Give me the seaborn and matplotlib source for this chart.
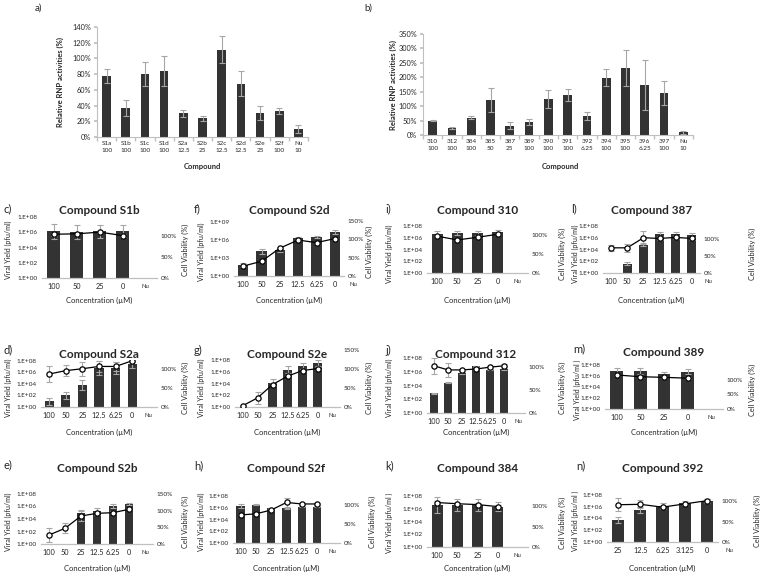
import numpy as np
import matplotlib
matplotlib.use("Agg")
import matplotlib.pyplot as plt
import seaborn as sns
from matplotlib.ticker import FixedLocator, FuncFormatter, NullLocator

sns.set_theme(style="white")
plt.rcParams['font.family'] = ['Lato', 'DejaVu Sans']

# ---- RNP activity screens (panels a, b) ----
a_compounds = ["S1a", "S1b", "S1c", "S1d", "S2a", "S2b", "S2c", "S2d", "S2e", "S2f", "Nu"]
a_doses = ["100", "100", "100", "100", "12.5", "25", "12.5", "12.5", "25", "100", "10"]
a_activity = [78, 37, 80, 84, 30, 24, 111, 68, 31, 33, 10]
a_err = [9, 10, 15, 19, 5, 3, 17, 16, 9, 4, 5]

b_compounds = ["310", "312", "384", "385", "387", "389", "390", "391", "392", "394", "395", "396", "397", "Nu"]
b_doses = ["100", "100", "100", "50", "25", "100", "100", "100", "6.25", "100", "100", "6.25", "100", "10"]
b_activity = [50, 25, 60, 122, 32, 45, 125, 138, 65, 198, 232, 173, 145, 10]
b_err = [3, 3, 5, 42, 12, 12, 30, 20, 14, 29, 62, 87, 41, 5]

# ---- dose response panels: viral yield (log10 pfu/ml) and cell viability (%) ----
nan = np.nan
c_conc = ["100", "50", "25", "0"]
c_yield = [6.1, 6.05, 6.1, 6.15]
c_yield_err = [1.0, 0.95, 0.9, 0.8]
c_viab = [104, 105, 109, 101]
c_viab_err = [3, 3, 3, 3]

f_conc = ["100", "50", "25", "12.5", "6.25", "0"]
f_yield = [1.85, 4.1, 4.3, 6.3, 6.5, 7.4]
f_yield_err = [0.35, 0.4, 0.3, 0.2, 0.2, 0.3]
f_viab = [27, 40, 76, 98, 91, 102]
f_viab_err = [2, 2, 3, 3, 3, 3]

i_conc = ["100", "50", "25", "0"]
i_yield = [6.7, 6.8, 6.8, 7.0]
i_yield_err = [0.4, 0.4, 0.4, 0.4]
i_viab = [98, 88, 95, 103]
i_viab_err = [3, 3, 3, 3]

l_conc = ["100", "50", "25", "12.5", "6.25", "0"]
l_yield = [nan, 1.6, 4.85, 6.6, 6.7, 6.45]
l_yield_err = [0, 0.25, 0.3, 0.3, 0.3, 0.3]
l_viab = [75, 75, 105, 103, 106, 103]
l_viab_err = [8, 12, 20, 4, 4, 4]

d_conc = ["100", "50", "25", "12.5", "6.25", "0"]
d_yield = [1.0, 2.0, 3.8, 6.7, 6.7, 7.4]
d_yield_err = [0.6, 0.6, 0.8, 1.2, 1.0, 0.6]
d_viab = [87, 96, 101, 107, 107, 122]
d_viab_err = [22, 14, 19, 14, 12, 3]

g_conc = ["100", "50", "25", "12.5", "6.25", "0"]
g_yield = [nan, nan, 4.2, 6.4, 7.1, 7.55]
g_yield_err = [0, 0, 0.6, 0.6, 0.5, 0.45]
g_viab = [3, 24, 59, 81, 96, 101]
g_viab_err = [1, 16, 4, 3, 3, 3]

j_conc = ["100", "50", "25", "12.5", "6.25", "0"]
j_yield = [2.85, 4.4, 5.8, 6.8, 6.3, 6.4]
j_yield_err = [0.1, 0.1, 0.1, 0.1, 0.1, 0.1]
j_viab = [103, 94, 94, 96, 100, 103]
j_viab_err = [18, 16, 3, 3, 3, 3]

m_conc = ["100", "50", "25", "0"]
m_yield = [6.9, 6.9, 6.4, 6.8]
m_yield_err = [0.5, 0.5, 0.4, 0.4]
m_viab = [116, 110, 108, 105]
m_viab_err = [4, 3, 3, 3]

e_conc = ["100", "50", "25", "12.5", "6.25", "0"]
e_yield = [nan, nan, 4.9, 5.3, 6.1, 6.4]
e_yield_err = [0, 0, 0.5, 0.4, 0.3, 0.2]
e_viab = [27, 47, 84, 92, 94, 104]
e_viab_err = [20, 15, 15, 5, 4, 3]

h_conc = ["100", "50", "25", "12.5", "6.25", "0"]
h_yield = [6.3, 6.5, 5.9, 5.9, 6.2, 6.2]
h_yield_err = [0.3, 0.1, 0.1, 0.1, 0.1, 0.1]
h_viab = [74, 77, 87, 107, 103, 103]
h_viab_err = [3, 3, 3, 12, 3, 3]

k_conc = ["100", "50", "25", "0"]
k_yield = [6.6, 6.6, 6.6, 6.3]
k_yield_err = [1.2, 1.0, 0.9, 0.7]
k_viab = [109, 106, 104, 99]
k_viab_err = [3, 3, 3, 3]

n_conc = ["25", "12.5", "6.25", "3.125", "0"]
n_yield = [3.8, 5.5, 6.2, 6.6, 7.0]
n_yield_err = [0.5, 0.5, 0.4, 0.3, 0.3]
n_viab = [92, 93, 86, 94, 102]
n_viab_err = [16, 10, 4, 3, 3]

W, H = 760, 574
BAR = '#333333'
ERR = '#a6a6a6'
AXIS = '#bfbfbf'

fig = plt.figure(figsize=(W / 100, H / 100), dpi=100)


def px_axes(x0, x1, y0, y1):
    return fig.add_axes([x0 / W, 1 - y1 / H, (x1 - x0) / W, (y1 - y0) / H])


def ftext(x, y, s, **kw):
    fig.text(x / W, 1 - y / H, s, **kw)


def rnp_panel(box, names, doses, vals, errs, ymax, ystep, ylab_x, xlab_xy, letter, letter_xy):
    ax = px_axes(*box)
    labels = [f"{nm}\n{d}" for nm, d in zip(names, doses)]
    sns.barplot(x=labels, y=vals, order=labels, color=BAR, saturation=1, width=0.45,
                errorbar=None, linewidth=0, ax=ax)
    ax.errorbar(range(len(vals)), vals, yerr=errs, fmt='none', ecolor=ERR,
                elinewidth=0.8, capsize=2, capthick=0.8)
    ax.set_ylim(0, ymax)
    ax.set_xlim(-0.5, len(vals) - 0.5)
    ax.yaxis.set_major_locator(FixedLocator(np.arange(0, ymax + 1, ystep)))
    ax.yaxis.set_major_formatter(FuncFormatter(lambda v, p: f"{v:.0f}%"))
    ax.xaxis.set_minor_locator(FixedLocator(np.arange(-0.5, len(vals), 1)))
    for s in ['top', 'right']:
        ax.spines[s].set_visible(False)
    for s in ['left', 'bottom']:
        ax.spines[s].set_color(AXIS)
        ax.spines[s].set_linewidth(0.8)
    ax.tick_params(axis='y', length=2, color=AXIS, labelsize=5.3, pad=2, left=True)
    ax.tick_params(axis='x', which='major', length=0, labelsize=4.6, pad=3)
    ax.tick_params(axis='x', which='minor', length=3, color=AXIS, bottom=True)
    for t in ax.get_xticklabels():
        t.set_linespacing(1.35)
    ax.set_xlabel('')
    ax.set_ylabel('')
    ftext(ylab_x, (box[2] + box[3]) / 2, 'Relative RNP activities (%)', rotation=90,
          ha='center', va='center', fontsize=5.5, fontweight='bold')
    ftext(xlab_xy[0], xlab_xy[1], 'Compound', ha='center', va='center', fontsize=5.5, fontweight='bold')
    ftext(letter_xy[0], letter_xy[1], letter, ha='left', va='center', fontsize=7)


rnp_panel((97, 308, 27, 137), a_compounds, a_doses, a_activity, a_err, 140, 20,
          60, (202, 166), 'a)', (35, 8))
rnp_panel((423, 693, 34, 135), b_compounds, b_doses, b_activity, b_err, 350, 50,
          393, (560, 166), 'b)', (364, 8))

# layout of dose-response panels, in pixels
LAYOUT = {
    'c': dict(box=(42, 157, 217, 278), ltop=8.0, lstep=2, rtop=145, rticks=[0, 50, 100], slots=5,
              title='Compound S1b', ty=211, letter=(4, 209), ylx=8, rlx=185, xly=300, ymid=250),
    'f': dict(box=(234, 344, 221, 276), ltop=9.2, lstep=3, rtop=150, rticks=[0, 50, 100, 150], slots=6,
              title='Compound S2d', ty=211, letter=(194, 209), ylx=201, rlx=369, xly=300, ymid=252),
    'i': dict(box=(427, 528, 226, 273), ltop=8.0, lstep=2, rtop=125, rticks=[0, 50, 100], slots=5,
              title='Compound 310', ty=211, letter=(385, 209), ylx=389, rlx=562, xly=300, ymid=254),
    'l': dict(box=(603, 700, 226, 273), ltop=8.0, lstep=2, rtop=140, rticks=[0, 50, 100], slots=6,
              title='Compound 387', ty=211, letter=(571, 209), ylx=575, rlx=752, xly=300, ymid=254),
    'd': dict(box=(41, 157, 360, 407), ltop=8.1, lstep=2, rtop=124, rticks=[0, 50, 100], slots=7,
              title='Compound S2a', ty=354, letter=(4, 350), ylx=8, rlx=185, xly=432, ymid=388),
    'g': dict(box=(235, 340, 350, 407), ltop=9.8, lstep=2, rtop=150, rticks=[0, 50, 100, 150], slots=7,
              title='Compound S2e', ty=354, letter=(194, 350), ylx=201, rlx=369, xly=432, ymid=388),
    'j': dict(box=(427, 525, 358, 413), ltop=8.0, lstep=2, rtop=120, rticks=[0, 50, 100], slots=7,
              title='Compound 312', ty=354, letter=(385, 350), ylx=389, rlx=562, xly=432, ymid=388),
    'm': dict(box=(605, 723, 365, 409), ltop=8.0, lstep=2, rtop=150, rticks=[0, 50, 100], slots=5,
              title='Compound 389', ty=352, letter=(573, 349), ylx=577, rlx=752, xly=432, ymid=390),
    'e': dict(box=(41, 153, 494, 544), ltop=8.0, lstep=2, rtop=150, rticks=[0, 50, 100, 150], slots=7,
              title='Compound S2b', ty=468, letter=(4, 465), ylx=8, rlx=185, xly=568, ymid=522),
    'h': dict(box=(233, 340, 496, 543), ltop=8.0, lstep=2, rtop=124, rticks=[0, 50, 100], slots=7,
              title='Compound S2f', ty=469, letter=(194, 466), ylx=201, rlx=372, xly=568, ymid=522),
    'k': dict(box=(427, 528, 496, 547), ltop=8.0, lstep=2, rtop=125, rticks=[0, 50, 100], slots=5,
              title='Compound 384', ty=469, letter=(385, 466), ylx=389, rlx=562, xly=568, ymid=523),
    'n': dict(box=(607, 718, 495, 542), ltop=8.0, lstep=2, rtop=116, rticks=[0, 50, 100], slots=5,
              title='Compound 392', ty=469, letter=(576, 466), ylx=575, rlx=757, xly=568, ymid=521),
}

PANELS = {
    'c': (c_conc, c_yield, c_yield_err, c_viab, c_viab_err),
    'f': (f_conc, f_yield, f_yield_err, f_viab, f_viab_err),
    'i': (i_conc, i_yield, i_yield_err, i_viab, i_viab_err),
    'l': (l_conc, l_yield, l_yield_err, l_viab, l_viab_err),
    'd': (d_conc, d_yield, d_yield_err, d_viab, d_viab_err),
    'g': (g_conc, g_yield, g_yield_err, g_viab, g_viab_err),
    'j': (j_conc, j_yield, j_yield_err, j_viab, j_viab_err),
    'm': (m_conc, m_yield, m_yield_err, m_viab, m_viab_err),
    'e': (e_conc, e_yield, e_yield_err, e_viab, e_viab_err),
    'h': (h_conc, h_yield, h_yield_err, h_viab, h_viab_err),
    'k': (k_conc, k_yield, k_yield_err, k_viab, k_viab_err),
    'n': (n_conc, n_yield, n_yield_err, n_viab, n_viab_err),
}

for key, (conc, yld, yld_err, viab, viab_err) in PANELS.items():
    L = LAYOUT[key]
    x0, x1, y0, y1 = L['box']
    ax = px_axes(x0, x1, y0, y1)
    yl = np.array(yld, dtype=float)
    ye = np.array(yld_err, dtype=float)
    yv = 10.0 ** yl
    sns.barplot(x=conc, y=yv, order=conc, color=BAR, saturation=1, width=0.55,
                errorbar=None, linewidth=0, ax=ax)
    ax.set_yscale('log')
    pos = np.arange(len(conc))
    ax.errorbar(pos, yv, yerr=[yv - 10.0 ** (yl - ye), 10.0 ** (yl + ye) - yv], fmt='none',
                ecolor=ERR, elinewidth=0.8, capsize=2, capthick=0.8)
    ax.set_ylim(1, 10 ** L['ltop'])
    ax.yaxis.set_major_locator(FixedLocator([10.0 ** k for k in range(0, int(L['ltop']) + 1, L['lstep'])]))
    ax.yaxis.set_minor_locator(NullLocator())
    ax.yaxis.set_major_formatter(FuncFormatter(lambda v, p: f"1.E+{int(round(np.log10(v))):02d}"))

    ax2 = ax.twinx()
    ax2.errorbar(pos, viab, yerr=viab_err, fmt='none', ecolor=ERR, elinewidth=0.8,
                 capsize=2, capthick=0.8, zorder=1)
    sns.pointplot(x=conc, y=viab, order=conc, color='black', markers='o', errorbar=None,
                  linewidth=0.9, markersize=3.8, markeredgewidth=0.9,
                  markerfacecolor='white', markeredgecolor='black', zorder=3, ax=ax2)
    ax2.set_ylim(0, L['rtop'])
    ax2.yaxis.set_major_locator(FixedLocator(L['rticks']))
    ax2.yaxis.set_major_formatter(FuncFormatter(lambda v, p: f"{v:.0f}%"))

    ax.set_xlim(-0.5, L['slots'] - 0.5)
    ax.set_xticks(pos)
    ax.set_xticklabels(conc)
    ax.annotate('Nu', xy=(len(conc), 0), xycoords=('data', 'axes fraction'), xytext=(0, -4),
                textcoords='offset points', ha='center', va='top', fontsize=4.3,
                annotation_clip=False)

    for a in (ax, ax2):
        for s in ['top', 'left', 'right']:
            a.spines[s].set_visible(False)
        a.set_xlabel('')
        a.set_ylabel('')
    ax2.spines['bottom'].set_visible(False)
    ax.spines['bottom'].set_color(AXIS)
    ax.spines['bottom'].set_linewidth(0.9)
    ax.tick_params(axis='y', length=0, labelsize=4.6, pad=3)
    ax.tick_params(axis='x', length=0, labelsize=5.3, pad=3.5)
    ax2.tick_params(axis='y', length=0, labelsize=4.6, pad=2.5)

    ftext((x0 + x1) / 2, L['ty'], L['title'], ha='center', va='center', fontsize=8.5, fontweight='bold')
    ftext(L['letter'][0], L['letter'][1], key + ')', ha='left', va='center', fontsize=8)
    ylab = 'Viral Yield (pfu/ml )' if key in ('m', 'k', 'n') else 'Viral Yield (pfu/ml)'
    ftext(L['ylx'], L['ymid'], ylab, rotation=90, ha='center', va='center', fontsize=5.1)
    ftext(L['rlx'], L['ymid'], 'Cell Viability (%)', rotation=90, ha='center', va='center', fontsize=5.3)
    ftext((x0 + x1) / 2, L['xly'], 'Concentration (\u00b5M)', ha='center', va='center', fontsize=5.5)

fig.savefig('out.png', dpi=100)
